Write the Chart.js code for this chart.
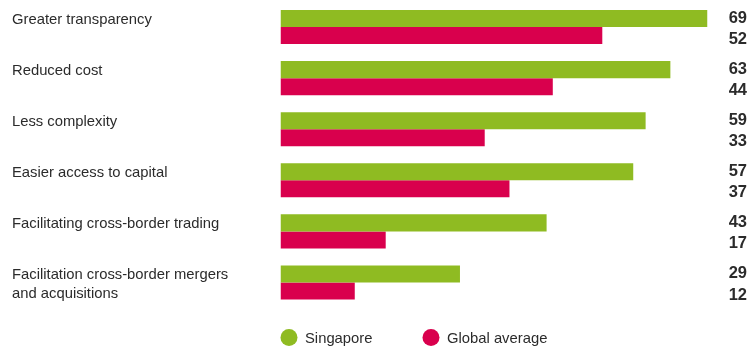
<!DOCTYPE html>
<html>
<head>
<meta charset="utf-8">
<script src="https://cdn.jsdelivr.net/npm/chart.js@4/dist/chart.umd.min.js"></script>
<style>
  html, body { margin: 0; padding: 0; background: #fff; }
  #wrap { width: 752px; height: 347px; }
</style>
</head>
<body>
<div id="wrap"><canvas id="bars"></canvas></div>
<script>
const categories = [
  "Greater transparency",
  "Reduced cost",
  "Less complexity",
  "Easier access to capital",
  "Facilitating cross-border trading",
  ["Facilitation cross-border mergers", "and acquisitions"]
];
const singapore = [69, 63, 59, 57, 43, 29];
const globalAvg = [52, 44, 33, 37, 17, 12];
const seriesNames = ["Singapore", "Global average"];

const GREEN = "#8fbb22";
const PINK = "#d9004d";
const TEXT = "#2b2b2b";
const FONT = "'Liberation Sans', Arial, sans-serif";

// numbers at the far right of each bar
const valueLabels = {
  id: "valueLabels",
  afterDatasetsDraw(chart) {
    const ctx = chart.ctx;
    ctx.save();
    ctx.font = "bold 16.5px " + FONT;
    ctx.fillStyle = TEXT;
    ctx.textAlign = "right";
    ctx.textBaseline = "middle";
    chart.data.datasets.forEach((ds, di) => {
      chart.getDatasetMeta(di).data.forEach((bar, i) => {
        ctx.fillText(ds.data[i], 747, bar.y + (di === 1 ? 4 : 0));
      });
    });
    ctx.restore();
  }
};

// legend under the bars, starting at the bar baseline
const bottomLegend = {
  id: "bottomLegend",
  afterDraw(chart) {
    const ctx = chart.ctx;
    const x0 = chart.chartArea.left;
    const y = 337.5;
    const offsets = [0, 142];
    ctx.save();
    ctx.font = "14.8px " + FONT;
    ctx.textBaseline = "middle";
    ctx.textAlign = "left";
    chart.data.datasets.forEach((ds, i) => {
      const x = x0 + offsets[i];
      ctx.fillStyle = ds.backgroundColor;
      ctx.beginPath();
      ctx.arc(x + 8.5, y, 8.5, 0, Math.PI * 2);
      ctx.fill();
      ctx.fillStyle = TEXT;
      ctx.fillText(ds.label, x + 24.5, y + 1);
    });
    ctx.restore();
  }
};

const ctx1 = document.getElementById("bars");

new Chart(ctx1, {
  type: "bar",
  data: {
    labels: categories,
    datasets: [
      { label: seriesNames[0], data: singapore, backgroundColor: GREEN },
      { label: seriesNames[1], data: globalAvg, backgroundColor: PINK }
    ]
  },
  options: {
    indexAxis: "y",
    responsive: true,
    maintainAspectRatio: false,
    animation: false,
    layout: { padding: { left: 12, right: 44.5, top: 1.5, bottom: 39 } },
    datasets: { bar: { categoryPercentage: 0.666, barPercentage: 1 } },
    plugins: {
      legend: { display: false },
      tooltip: { enabled: false }
    },
    scales: {
      x: { display: false, min: 0, max: 69 },
      y: {
        grid: { display: false },
        border: { display: false },
        afterFit(scale) {
          scale.width = 268.5;
          scale.paddingTop = 0;
          scale.paddingBottom = 0;
        },
        ticks: {
          crossAlign: "far",
          padding: 0,
          labelOffset: 2,
          color: TEXT,
          font: { family: FONT, size: 14.8, lineHeight: "19px" },
          callback(value, index) {
            const lab = categories[index];
            return Array.isArray(lab) ? lab : [lab, ""];
          }
        }
      }
    }
  },
  plugins: [valueLabels, bottomLegend]
});
</script>
</body>
</html>
